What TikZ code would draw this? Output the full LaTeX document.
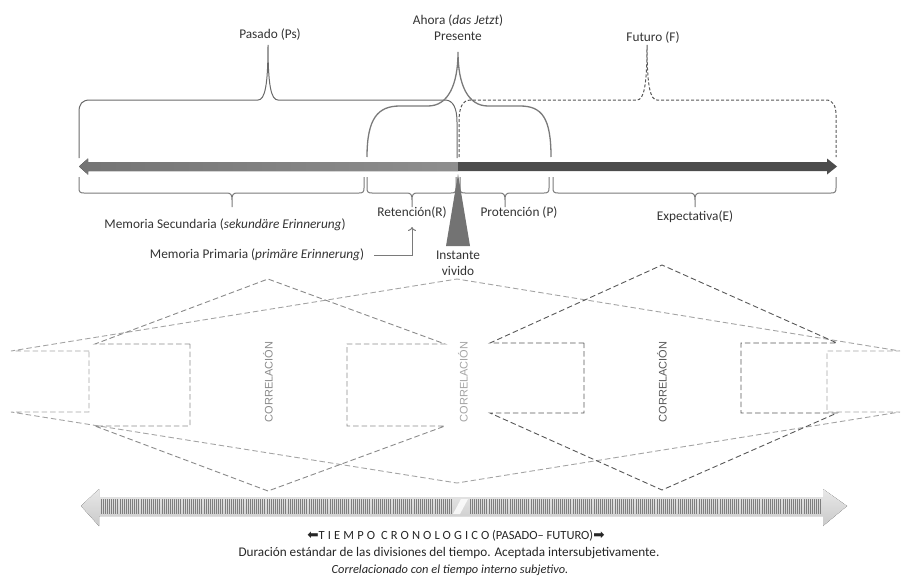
\documentclass[tikz,border=0pt]{standalone}
\usepackage{fontspec}
\setmainfont{Carlito}
\newfontfamily\corrfont{Liberation Sans}
\newfontfamily\arrfont{DejaVu Sans}
\usetikzlibrary{arrows.meta}
\definecolor{txt}{HTML}{333333}
\definecolor{brc}{HTML}{6A6A6A}
\definecolor{prc}{HTML}{7A7A7A}
\definecolor{lg}{HTML}{A4A4A4}
\definecolor{mg}{HTML}{8A8A8A}
\definecolor{dg}{HTML}{585858}
\definecolor{arL}{HTML}{747474}
\definecolor{arM}{HTML}{8E8E8E}
\definecolor{arR}{HTML}{4C4C4C}
\definecolor{hatch}{HTML}{7E7E7E}
\newcommand{\lowbr}[3]{%
  \draw[lowbrace] (#1,177) -- (#1,188) .. controls (#1,192) and (#1+1,193) .. (#1+5,193)
    -- (#3-5,193) .. controls (#3-1,193) and (#3,195) .. (#3,200) -- (#3,207)
    (#3,200) .. controls (#3,195) and (#3+1,193) .. (#3+5,193)
    -- (#2-5,193) .. controls (#2-1,193) and (#2,192) .. (#2,188) -- (#2,177);}
\begin{document}
\begin{tikzpicture}[x=1pt,y=-1pt,
  lbl/.style={font=\fontsize{13.3}{16}\selectfont, text=txt, inner sep=0pt, align=center},
  small/.style={text=black!85, inner sep=0pt, align=center},
  corr/.style={font=\corrfont\fontsize{11}{12}\selectfont, inner sep=0pt, rotate=90},
  topbrace/.style={draw=brc, line width=1pt},
  presbrace/.style={draw=prc, line width=1.3pt},
  futbrace/.style={draw=dg, line width=1pt, dash pattern=on 3pt off 2pt},
  lowbrace/.style={draw=prc, line width=1pt},
  dsh/.style={line width=0.9pt, dash pattern=on 5.5pt off 3pt}]
\useasboundingbox (0,0) rectangle (901,578);

% ---------- top arrow ----------
\fill[left color=arL, right color=arM] (79,166.5) -- (88,158.5) -- (88,162) -- (458,162) -- (458,171) -- (88,171) -- (88,174.5) -- cycle;
\fill[arR] (458,162) -- (827,162) -- (827,158.5) -- (837,166.5) -- (827,174.5) -- (827,171) -- (458,171) -- cycle;

% ---------- upper braces ----------
\draw[topbrace] (79,158) -- (79,112) .. controls (79,104) and (82,100) .. (90,100)
  -- (258,100) .. controls (265,100) and (268,85) .. (268,45)
  .. controls (268,85) and (271,100) .. (278,100)
  -- (445,100) .. controls (453,100) and (457,108) .. (457,122) -- (457,158);
\draw[presbrace] (367,157) .. controls (367,118) and (378,106) .. (400,106)
  -- (428,106) .. controls (448,106) and (458,85) .. (458,52)
  .. controls (458,85) and (468,106) .. (488,106)
  -- (520,106) .. controls (542,106) and (551,118) .. (551,157);
\draw[futbrace] (459,157) -- (459,122) .. controls (459,108) and (462,100) .. (471,100)
  -- (637,100) .. controls (644,100) and (647,85) .. (647,45)
  .. controls (647,85) and (650,100) .. (657,100)
  -- (826,100) .. controls (833,100) and (836,106) .. (836,115) -- (836,157);

% ---------- lower braces ----------
\lowbr{79}{364}{232}
\lowbr{367}{456}{412}
\lowbr{460}{549}{505}
\lowbr{553}{836}{695}

% ---------- labels ----------
\node[lbl] (pasado) at (270,35) {Pasado (Ps)};
\node[lbl] (ahora) at (458,28) {Ahora (\textit{das Jetzt})\\Presente};
\node[lbl] (futuro) at (653,38) {Futuro (F)};
\node[lbl] (msec) at (225,225) {Memoria Secundaria (\textit{sekundäre Erinnerung})};
\node[lbl] (ret) at (412,213) {Retención(R)};
\node[lbl] (prot) at (519,213) {Protención (P)};
\node[lbl] (expe) at (695,217) {Expectativa(E)};
\node[lbl] (mprim) at (257,255) {Memoria Primaria (\textit{primäre Erinnerung})};
\node[lbl] (inst) at (458,263) {Instante\\vivido};

% instant triangle
\fill[black!55] (458,174) -- (470,246) -- (446,246) -- cycle;

% arrow from Memoria Primaria to Retención
\coordinate (retin) at (412,227);
\draw[draw=prc, line width=1pt, -{To[length=4pt,width=8pt]}] ([xshift=10pt]mprim.east) -| (retin);

% ---------- middle dashed shapes ----------
\draw[dsh, draw=lg] (89,351) -- (11,351) -- (457,279) -- (900,351) -- (827,351) -- (827,412)
  -- (900,412) -- (457,483) -- (11,412) -- (89,412) -- cycle;
\draw[dsh, draw=mg] (190,344) -- (95,344) -- (268,279) -- (445,344) -- (347,344) -- (347,426)
  -- (445,426) -- (268,491) -- (95,426) -- (190,426) -- cycle;
\draw[dsh, draw=dg] (584,343) -- (490,343) -- (662,265) -- (837,343) -- (741,343) -- (741,413)
  -- (837,413) -- (662,490) -- (490,413) -- (584,413) -- cycle;

\node[corr, text=mg] (c1) at (268,382) {CORRELACIÓN};
\node[corr, text=lg] (c2) at (463,382) {CORRELACIÓN};
\node[corr, text=dg] (c3) at (662,382) {CORRELACIÓN};

% ---------- bottom arrow ----------
\fill[top color=gray!18, bottom color=gray!42] (81,506) -- (99,489) -- (99,497) -- (823,497) -- (823,489) -- (847,506)
  -- (823,526) -- (823,516) -- (99,516) -- (99,526) -- cycle;
\foreach \xx in {101,103.1,...,452} \draw[hatch, line width=0.7pt] (\xx,499) -- (\xx,514);
\foreach \xx in {470,472.1,...,821} \draw[hatch, line width=0.7pt] (\xx,499) -- (\xx,514);
\fill[white, opacity=0.8] (453,514) -- (461,499) -- (468,499) -- (460,514) -- cycle;

% ---------- bottom text ----------
\node[small, font=\fontsize{12.5}{17}\selectfont] (tiempo) at (456,536) {{\arrfont\fontsize{13.5}{14}\selectfont ⬅}{\addfontfeature{LetterSpace=25}TIEMPO CRONOLOGICO} (PASADO– FUTURO){\arrfont\fontsize{13.5}{14}\selectfont ➡}};
\node[small, font=\fontsize{13.2}{17}\selectfont] (dur) at (449,553) {Duración estándar de las divisiones del tiempo. Aceptada intersubjetivamente.};
\node[small, font=\fontsize{12.4}{17}\selectfont] (corrl) at (450,570) {\textit{Correlacionado con el tiempo interno subjetivo.}};
\end{tikzpicture}
\end{document}
